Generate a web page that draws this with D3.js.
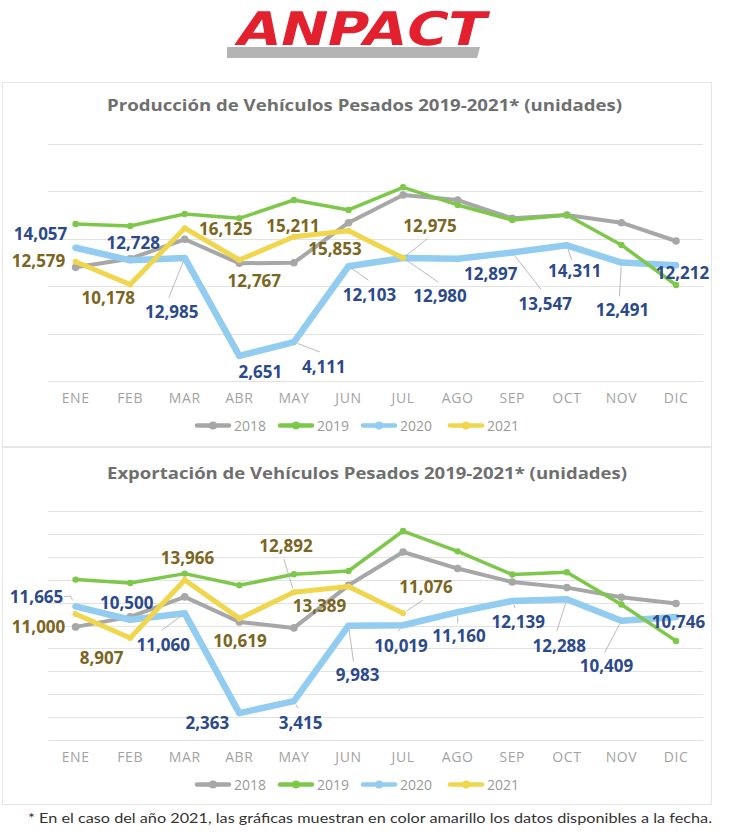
<!DOCTYPE html>
<html><head><meta charset="utf-8">
<script src="https://cdn.jsdelivr.net/npm/d3@7"></script>
<style>html,body{margin:0;padding:0;background:#fff;}svg{display:block;}</style>
</head><body>
<script>
// ---------- DATA ----------
const months = ["ENE","FEB","MAR","ABR","MAY","JUN","JUL","AGO","SEP","OCT","NOV","DIC"];
const years = ["2018","2019","2020","2021"];

const prod2018 = [11990, 12900, 14950, 12415, 12480, 16700, 19620, 19090, 17160, 17510, 16700, 14770];
const prod2019 = [16560, 16350, 17620, 17160, 19090, 18040, 20430, 18570, 16980, 17510, 14350, 10130];
const prod2020 = [14057, 12728, 12985, 2651, 4111, 12103, 12980, 12897, 13547, 14311, 12491, 12212];
const prod2021 = [12579, 10178, 16125, 12767, 15211, 15853, 12975];

const exp2018 = [9880, 10750, 12490, 10310, 9790, 13500, 16400, 14960, 13790, 13300, 12460, 11910];
const exp2019 = [14000, 13700, 14520, 13500, 14460, 14750, 18230, 16460, 14440, 14640, 11830, 8660];
const exp2020 = [11665, 10500, 11060, 2363, 3415, 9983, 10019, 11160, 12139, 12288, 10409, 10746];
const exp2021 = [11000, 8907, 13966, 10619, 12892, 13389, 11076];

const prodTicks = [0, 5000, 10000, 15000, 20000, 25000];
const expTicks = [0, 2000, 4000, 6000, 8000, 10000, 12000, 14000, 16000, 18000, 20000];

const titleProd = "Producción de Vehículos Pesados 2019-2021* (unidades)";
const titleExp = "Exportación de Vehículos Pesados 2019-2021* (unidades)";
const footnote = "* En el caso del año 2021, las gráficas muestran en color amarillo los datos disponibles a la fecha.";

// ---------- LAYOUT (label offsets relative to their points) ----------
const prodLab2020 = [[-35,-14],[3,-18],[-13,54,[-16,40]],[21,16],[30,24,[26,10]],[21,28,[20,14]],[37,38,[35,24]],[33,15],[33,51,[29,37]],[8,25,[5,15]],[1,47,[-2,34]],[6.5,7.5]];
const prodLab2021 = [[-37,-1],[-22,13],[41,0],[15,21],[-1,-11],[-13.5,18],[27,-32,[24,-19]]];
const expLab2020 = [[-39,-10,[-5,-10]],[-3.5,-17.5],[-21.5,31,[-23,17]],[-32,9.5],[6.6,21.6,[4,7]],[9,48.6,[5,36]],[-2,20,[-5,6]],[1.3,23.5,[0,11]],[6,21,[3,7]],[-7.5,46,[-10,32]],[-15,45,[-17,32]],[2.5,5]];
const expLab2021 = [[-37,12],[-28.5,19],[2.7,-22.7],[0.7,22],[-8,-47,[-10,-33]],[-29,19],[23,-26.5,[20,-13]]];

const colors = {"2018":"#a7a7a7","2019":"#7dc84a","2020":"#92ccf0","2021":"#efd64c"};
const widths = {"2018":4,"2019":3.5,"2020":6.5,"2021":5};
const labelColor = {"2020":"#2c4a8b","2021":"#7b6520"};
const W = 741, H = 838;

const svg = d3.select("body").append("svg").attr("width", W).attr("height", H);

// ---------- LOGO ----------
const logo = svg.append("g");
logo.append("polygon").attr("points","227,47 480,47 477,58 227,58").attr("fill","#b4b4b4");
logo.append("g").attr("transform","translate(234,45) skewX(-14) scale(1,1.05)")
  .append("text").attr("x",0).attr("y",0).text("ANPACT")
  .attr("font-family","'DejaVu Sans', sans-serif").attr("font-weight","bold")
  .attr("font-size",44).attr("textLength",248).attr("lengthAdjust","spacingAndGlyphs")
  .attr("fill","#e3202d");

// ---------- CARDS ----------
svg.append("rect").attr("x",2.5).attr("y",82.5).attr("width",709).attr("height",364).attr("fill","#fff").attr("stroke","#e6e6e6");
svg.append("rect").attr("x",2.5).attr("y",447.5).attr("width",709).attr("height",357).attr("fill","#fff").attr("stroke","#e6e6e6");

function drawChart(cfg) {
  const g = svg.append("g");
  const x = d3.scaleBand().domain(months).range([48.3, 703.3]);
  const cx = m => x(m) + x.bandwidth() / 2;
  const y = d3.scaleLinear().domain([0, d3.max(cfg.ticks)]).range([cfg.bottom, cfg.top]);

  g.append("text").attr("x", cfg.titleX).attr("y", cfg.titleY).attr("text-anchor","middle")
    .attr("dominant-baseline","central")
    .attr("font-family","'Open Sans', sans-serif").attr("font-weight","bold").attr("font-size",16.5)
    .attr("fill","#6f6f6f").attr("textLength", cfg.titleW).attr("lengthAdjust","spacingAndGlyphs")
    .text(cfg.title);

  g.append("g").selectAll("line").data(cfg.ticks).join("line")
    .attr("x1",48.3).attr("x2",703.3)
    .attr("y1",d=>Math.round(y(d))+0.5).attr("y2",d=>Math.round(y(d))+0.5)
    .attr("stroke","#e2e2e2").attr("stroke-width",1);

  const ax = g.append("g").attr("transform",`translate(0,${cfg.bottom})`)
    .call(d3.axisBottom(x).tickSize(0).tickPadding(12));
  ax.select(".domain").remove();
  ax.selectAll("text").attr("font-family","'Open Sans', sans-serif").attr("font-size",14)
    .attr("letter-spacing","0.6px").attr("fill","#a3a3a3");

  const line = d3.line().x((d,i)=>cx(months[i])).y(d=>y(d)).curve(d3.curveLinear);
  const order = ["2018","2020","2021","2019"];
  order.forEach(yr => {
    const vals = cfg.series[yr];
    g.append("path").datum(vals).attr("d", line).attr("fill","none")
      .attr("stroke", colors[yr]).attr("stroke-width", widths[yr])
      .attr("stroke-linejoin","round").attr("stroke-linecap","round");
    g.append("g").selectAll("circle").data(vals).join("circle")
      .attr("cx",(d,i)=>cx(months[i])).attr("cy",d=>y(d))
      .attr("r", yr==="2019"?3.2:(yr==="2018"?3.8:3)).attr("fill", colors[yr]);
  });

  [["2020", cfg.lab2020], ["2021", cfg.lab2021]].forEach(([yr, labs]) => {
    const vals = cfg.series[yr];
    vals.forEach((v,i) => {
      const px = cx(months[i]), py = y(v);
      const L = labs[i];
      if (L[2]) {
        let pts;
        if (yr==="2020" && i===0 && cfg.hook) {
          pts = [[px-3,py-6],[px-5,py-10],[px-12,py-10]];
        } else {
          const len = Math.hypot(L[2][0], L[2][1]);
          const s = 4/len;
          pts = [[px+L[2][0]*s, py+L[2][1]*s],[px+L[2][0], py+L[2][1]]];
        }
        g.append("path").attr("d", d3.line()(pts)).attr("fill","none")
          .attr("stroke","#a9a9a9").attr("stroke-width",0.8);
      }
      g.append("text").attr("x", px + L[0]).attr("y", py + L[1])
        .attr("text-anchor","middle").attr("dominant-baseline","central")
        .attr("font-family","'Open Sans', sans-serif").attr("font-weight","bold").attr("font-size",17)
        .attr("fill", labelColor[yr]).text(d3.format(",")(v));
    });
  });

  const legX = [197, 280, 363, 450];
  years.forEach((yr, k) => {
    const lg = g.append("g").attr("transform",`translate(${legX[k]},${cfg.legendY})`);
    lg.append("line").attr("x1",0).attr("x2",32).attr("y1",0).attr("y2",0)
      .attr("stroke",colors[yr]).attr("stroke-width",4.5).attr("stroke-linecap","round");
    lg.append("circle").attr("cx",16).attr("cy",0).attr("r",4).attr("fill",colors[yr]);
    lg.append("text").attr("x",37).attr("y",0).attr("dominant-baseline","central")
      .attr("font-family","'Open Sans', sans-serif").attr("font-size",14).attr("fill","#9a9a9a").text(yr);
  });
}

drawChart({
  title: titleProd, titleX: 364.5, titleY: 104, titleW: 515,
  ticks: prodTicks, top: 144, bottom: 381, legendY: 425.5,
  series: {"2018":prod2018,"2019":prod2019,"2020":prod2020,"2021":prod2021},
  lab2020: prodLab2020, lab2021: prodLab2021, hook: false
});
drawChart({
  title: titleExp, titleX: 367, titleY: 472, titleW: 520,
  ticks: expTicks, top: 510.7, bottom: 740.3, legendY: 784.5,
  series: {"2018":exp2018,"2019":exp2019,"2020":exp2020,"2021":exp2021},
  lab2020: expLab2020, lab2021: expLab2021, hook: true
});

svg.append("text").attr("x",28).attr("y",817).attr("dominant-baseline","central")
  .attr("font-family","'Lato', sans-serif").attr("font-size",14).attr("fill","#333")
  .attr("textLength",684).attr("lengthAdjust","spacingAndGlyphs").text(footnote);
</script>
</body></html>
